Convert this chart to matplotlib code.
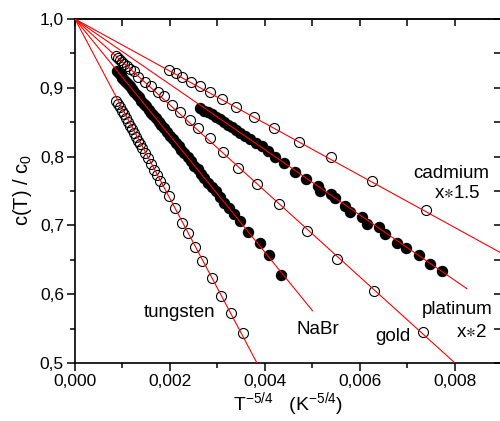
import numpy as np
import matplotlib
matplotlib.use('Agg')
import matplotlib.pyplot as plt
from matplotlib.ticker import FuncFormatter, MultipleLocator

plt.rcParams['font.family'] = ['Liberation Sans', 'DejaVu Sans']
plt.rcParams['mathtext.fontset'] = 'custom'
plt.rcParams['mathtext.rm'] = 'Liberation Sans'
plt.rcParams['mathtext.it'] = 'Liberation Sans:italic'
plt.rcParams['mathtext.default'] = 'regular'

# data: x = T^-5/4, y = c(T)/c0
tungsten_x = [0.00086, 0.00091, 0.00095, 0.00099, 0.00103, 0.00107, 0.00112, 0.00116,
              0.00120, 0.00124, 0.00128, 0.00133, 0.00137, 0.00141, 0.00147, 0.00154,
              0.00160, 0.00166, 0.00173, 0.00179, 0.00187, 0.00198, 0.00211, 0.00225,
              0.00238, 0.00253, 0.00268, 0.00289, 0.00307, 0.00328, 0.00354]
tungsten_y = [0.881, 0.876, 0.872, 0.867, 0.862, 0.856, 0.850, 0.845,
              0.840, 0.834, 0.828, 0.823, 0.818, 0.812, 0.805, 0.798,
              0.789, 0.781, 0.773, 0.765, 0.756, 0.743, 0.725, 0.703,
              0.689, 0.669, 0.648, 0.623, 0.597, 0.573, 0.543]

nabr_x = [0.00088, 0.00092, 0.00096, 0.00100, 0.00104, 0.00108, 0.00112, 0.00116,
          0.00120, 0.00125, 0.00130, 0.00135, 0.00140, 0.00145, 0.00150, 0.00155,
          0.00160, 0.00165, 0.00170, 0.00176, 0.00182, 0.00188, 0.00194, 0.00200,
          0.00206, 0.00212, 0.00218, 0.00224, 0.00230, 0.00237, 0.00244, 0.00251,
          0.00258, 0.00265, 0.00272, 0.00280, 0.00288, 0.00296, 0.00305, 0.00314,
          0.00324, 0.00335, 0.00347, 0.00365, 0.00389, 0.00408, 0.00433]
nabr_y = [0.925, 0.922, 0.919, 0.915, 0.912, 0.908, 0.905, 0.902,
          0.898, 0.894, 0.890, 0.886, 0.881, 0.877, 0.873, 0.868,
          0.864, 0.860, 0.856, 0.851, 0.846, 0.841, 0.836, 0.830,
          0.825, 0.820, 0.815, 0.810, 0.805, 0.799, 0.793, 0.787,
          0.782, 0.775, 0.769, 0.762, 0.756, 0.750, 0.741, 0.733,
          0.726, 0.716, 0.707, 0.691, 0.674, 0.657, 0.628]

gold_x = [0.00086, 0.00091, 0.00095, 0.00099, 0.00103, 0.00109, 0.00116, 0.00124,
          0.00133, 0.00147, 0.00161, 0.00175, 0.00187, 0.00204, 0.00221, 0.00242,
          0.00259, 0.00284, 0.00312, 0.00343, 0.00383, 0.00429, 0.00488, 0.00552,
          0.00630, 0.00732]
gold_y = [0.946, 0.943, 0.940, 0.938, 0.935, 0.932, 0.928, 0.924,
          0.916, 0.909, 0.902, 0.894, 0.888, 0.875, 0.865, 0.853,
          0.841, 0.827, 0.807, 0.784, 0.760, 0.731, 0.692, 0.651,
          0.605, 0.545]

platinum_x = [0.00263, 0.00272, 0.00280, 0.00288, 0.00297, 0.00305, 0.00314, 0.00322,
              0.00331, 0.00339, 0.00347, 0.00358, 0.00368, 0.00381, 0.00394, 0.00406,
              0.00421, 0.00440, 0.00463, 0.00486, 0.00512, 0.00516, 0.00539, 0.00547,
              0.00568, 0.00579, 0.00604, 0.00615, 0.00640, 0.00653, 0.00678, 0.00697,
              0.00724, 0.00747, 0.00772]
platinum_y = [0.871, 0.867, 0.865, 0.862, 0.858, 0.854, 0.850, 0.846,
              0.843, 0.839, 0.835, 0.830, 0.826, 0.820, 0.815, 0.808,
              0.800, 0.791, 0.778, 0.768, 0.757, 0.750, 0.746, 0.740,
              0.728, 0.719, 0.712, 0.702, 0.697, 0.688, 0.674, 0.667,
              0.657, 0.644, 0.634]

cadmium_x = [0.00198, 0.00212, 0.00226, 0.00244, 0.00263, 0.00285, 0.00309, 0.00340,
             0.00376, 0.00419, 0.00471, 0.00539, 0.00625, 0.00739]
cadmium_y = [0.926, 0.921, 0.916, 0.909, 0.902, 0.894, 0.884, 0.872,
             0.858, 0.841, 0.821, 0.799, 0.765, 0.723]

# fitted straight lines through (0, 1): slope and where each drawn line stops
fit_slope = {'tungsten': -130.5, 'NaBr': -84.8, 'gold': -62.5, 'platinum': -47.5, 'cadmium': -37.9}
fit_xend = {'tungsten': 0.0040, 'NaBr': 0.0050, 'gold': 0.0080, 'platinum': 0.00825, 'cadmium': 0.0095}

fig = plt.figure(figsize=(5, 4.21), dpi=100)
ax = fig.add_axes([0.15, 0.1378, 0.852, 0.817])

ms = 7.2
ax.plot(tungsten_x, tungsten_y, 'o', mfc='none', mec='black', mew=0.8, ms=ms, zorder=2)
ax.plot(gold_x, gold_y, 'o', mfc='none', mec='black', mew=0.8, ms=ms, zorder=2)
ax.plot(cadmium_x, cadmium_y, 'o', mfc='none', mec='black', mew=0.8, ms=ms, zorder=2)
ax.plot(nabr_x, nabr_y, 'o', color='black', ms=ms, zorder=2)
ax.plot(platinum_x, platinum_y, 'o', color='black', ms=ms, zorder=2)

for name in fit_slope:
    xx = np.array([0.0, fit_xend[name]])
    ax.plot(xx, 1 + fit_slope[name] * xx, color='red', lw=0.8, zorder=3)

fs = 13.5
ax.text(0.00221, 0.574, 'tungsten', fontsize=fs, ha='center', va='center')
ax.text(0.00512, 0.549, 'NaBr', fontsize=fs, ha='center', va='center')
ax.text(0.00669, 0.538, 'gold', fontsize=fs, ha='center', va='center')
ax.text(0.00804, 0.578, 'platinum', fontsize=fs, ha='center', va='center')
ax.text(0.00834, 0.545, r'x$\ast$2', fontsize=fs, ha='center', va='center')
ax.text(0.00793, 0.776, 'cadmium', fontsize=fs, ha='center', va='center')
ax.text(0.00805, 0.747, r'x$\ast$1.5', fontsize=fs, ha='center', va='center')

ax.set_xlim(0, 0.00897)
ax.set_ylim(0.5, 1.0)

comma = lambda fmt: FuncFormatter(lambda v, p: (fmt % v).replace('.', ','))
ax.xaxis.set_major_locator(MultipleLocator(0.002))
ax.xaxis.set_minor_locator(MultipleLocator(0.001))
ax.yaxis.set_major_locator(MultipleLocator(0.1))
ax.yaxis.set_minor_locator(MultipleLocator(0.05))
ax.xaxis.set_major_formatter(comma('%.3f'))
ax.yaxis.set_major_formatter(comma('%.1f'))
ax.tick_params(which='major', direction='out', length=6, width=1.1, labelsize=12.5, pad=2)
ax.tick_params(which='minor', direction='out', length=3.5, width=1.1)

top = ax.secondary_xaxis('top')
top.xaxis.set_major_locator(MultipleLocator(0.001))
top.tick_params(direction='in', length=5, width=1.1, labeltop=False)
right = ax.secondary_yaxis('right')
right.yaxis.set_major_locator(MultipleLocator(0.05))
right.tick_params(direction='in', length=5, width=1.1, labelright=False)

for sp in ax.spines.values():
    sp.set_linewidth(1.2)
top.spines['top'].set_linewidth(1.2)
top.spines['top'].set_color('#444444')

ax.set_xlabel('T$^{-5/4}$   (K$^{-5/4}$)', fontsize=14, labelpad=1)
ax.set_ylabel('c(T) / c$_0$', fontsize=14.5)
ax.yaxis.set_label_coords(-0.097, 0.503)

fig.savefig('out.png', dpi=100)
